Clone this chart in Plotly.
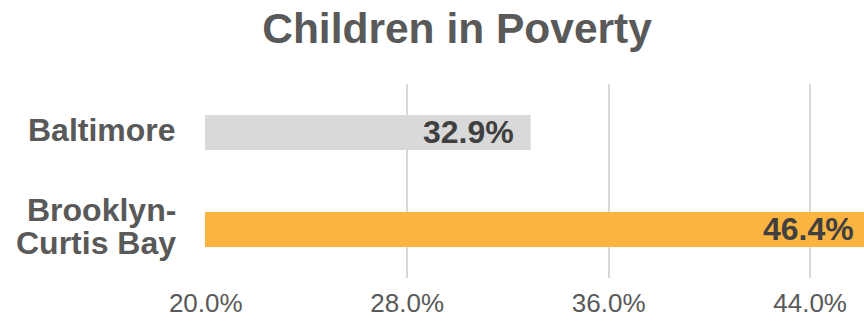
import plotly.graph_objects as go

categories = ["Baltimore", "Brooklyn-<br>Curtis Bay"]
values = [32.9, 46.4]
labels = ["32.9%", "46.4%"]
colors = ["#D9D9D9", "#FBB440"]
tick_vals = [20, 28, 36, 44]
tick_text = ["20.0%", "28.0%", "36.0%", "44.0%"]
x_range = [19.97, 46.14]

FONT = "Liberation Sans, Arial, sans-serif"

fig = go.Figure()
fig.add_trace(go.Bar(
    y=categories, x=values, base=0, orientation="h",
    marker=dict(color=colors, line=dict(width=0)),
    width=0.36, hoverinfo="skip",
))

# data labels, positioned via axis fraction (the longest bar runs past the axis end)
span = x_range[1] - x_range[0]
for c, v, t in zip(categories, values, labels):
    fig.add_annotation(
        x=(v - x_range[0]) / span, xref="x domain", y=c, yref="y",
        text=f"<b>{t}</b>", showarrow=False,
        xanchor="right", yanchor="middle", xshift=-15, yshift=1,
        font=dict(family=FONT, size=32, color="#404040"),
    )

# category labels: block right-aligned, lines centred, tight line spacing
LINE_H = 33
for c in categories:
    lines = c.split("<br>")
    n = len(lines)
    for i, ln in enumerate(lines):
        fig.add_annotation(
            x=0, xref="x domain", y=c, yref="y",
            text=f"<b>{ln}</b>", showarrow=False,
            xanchor="right", yanchor="middle", xshift=-27,
            yshift=-(i - (n - 1) / 2) * LINE_H + 3,
            font=dict(family=FONT, size=32, color="#595959"),
        )

fig.update_layout(
    width=864, height=324,
    margin=dict(l=205, r=0, t=84, b=46),
    paper_bgcolor="white", plot_bgcolor="white",
    showlegend=False,
    title=dict(text="<b>Children in Poverty</b>", x=0.529, xanchor="center",
               y=0.912, yanchor="middle",
               font=dict(family=FONT, size=42.5, color="#595959")),
    xaxis=dict(range=x_range, tickvals=tick_vals, ticktext=tick_text,
               showgrid=True, gridcolor="#D9D9D9", gridwidth=2,
               zeroline=False, showline=False, ticks="", automargin=False,
               tickfont=dict(family=FONT, size=26, color="#595959"),
               ticklabelstandoff=7),
    yaxis=dict(categoryorder="array", categoryarray=categories,
               autorange="reversed", showgrid=False, zeroline=False,
               showline=False, ticks="", showticklabels=False,
               automargin=False),
)
# remove the default 8px page margin so the 864x324 figure fills the window
fig.write_html(
    "out.html",
    config={"displayModeBar": False},
    post_script="document.body.style.margin='0';document.body.style.overflow='hidden';",
)
